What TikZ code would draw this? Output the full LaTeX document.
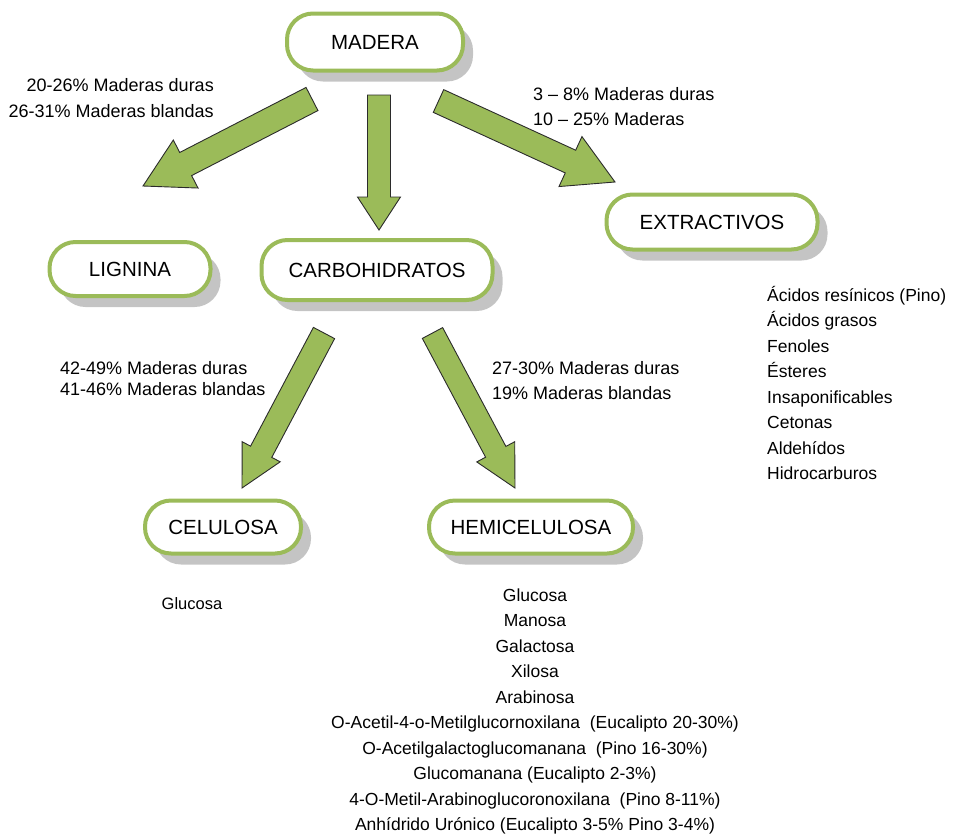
\documentclass[tikz,border=0pt]{standalone}
\usepackage{fontspec}
\setmainfont{Liberation Sans}
\usetikzlibrary{calc, shadows}
\definecolor{woodgreen}{HTML}{9BBB59}
\definecolor{arrowink}{HTML}{2B2B2B}
\definecolor{shadowgray}{HTML}{C4C4C4}

% block arrow: tail, tip, shaft half width, head half width, head length
\newcommand{\blockarrow}[5]{%
  \coordinate (ba-h) at ($(#2)!#5!(#1)$);
  \draw[bigarrow] ($(#1)!#3!90:(#2)$) -- ($(ba-h)!#3!90:(#2)$)
    -- ($(ba-h)!#4!90:(#2)$) -- (#2) -- ($(ba-h)!#4!-90:(#2)$)
    -- ($(ba-h)!#3!-90:(#2)$) -- ($(#1)!#3!-90:(#2)$) -- cycle;
}

\begin{document}
\begin{tikzpicture}[x=1pt, y=-1pt,
  box/.style={draw=woodgreen, line width=4pt, fill=white, rounded corners=26pt,
    inner sep=0, font=\fontsize{20.5}{24}\selectfont, text=black,
    drop shadow={shadow xshift=10pt, shadow yshift=-11pt, fill=shadowgray, opacity=1}},
  lbl/.style={inner sep=0, font=\fontsize{18}{26}\selectfont},
  bigarrow/.style={fill=woodgreen, draw=arrowink, line width=0.9pt, line join=miter}]

\useasboundingbox (0,0) rectangle (956,839);

% ---- boxes
\node[box, minimum width=176, minimum height=57] (madera) at (375,42) {MADERA};
\node[box, minimum width=161, minimum height=54] (lignina) at (130,269) {LIGNINA};
\node[box, minimum width=231, minimum height=60] (carbo) at (377,270) {CARBOHIDRATOS};
\node[box, minimum width=211, minimum height=55] (extract) at (712,222) {EXTRACTIVOS};
\node[box, minimum width=156, minimum height=53] (celulosa) at (223,527) {CELULOSA};
\node[box, minimum width=204, minimum height=53] (hemi) at (531,527) {HEMICELULOSA};

% ---- arrow ends
\coordinate (mad-lig-s) at (312,99);   \coordinate (mad-lig-t) at (143,186);
\coordinate (mad-car-s) at (379,95);   \coordinate (mad-car-t) at (379,230);
\coordinate (mad-ext-s) at (438.5,101); \coordinate (mad-ext-t) at (615,182);
\coordinate (car-cel-s) at (324,333);  \coordinate (car-cel-t) at (242,488);
\coordinate (car-hem-s) at (432.5,333); \coordinate (car-hem-t) at (515,488);

\blockarrow{mad-lig-s}{mad-lig-t}{13pt}{27pt}{48pt}
\blockarrow{mad-car-s}{mad-car-t}{11.5pt}{21.5pt}{33pt}
\blockarrow{mad-ext-s}{mad-ext-t}{12.5pt}{27.5pt}{49pt}
\blockarrow{car-cel-s}{car-cel-t}{12pt}{21.5pt}{41pt}
\blockarrow{car-hem-s}{car-hem-t}{11.5pt}{21.5pt}{41pt}

% ---- percentages
\node[lbl, anchor=east, align=right] (lig-pct) at (214,98.5)
  {20-26\% Maderas duras\\26-31\% Maderas blandas};
\node[lbl, anchor=west, align=left, font=\fontsize{18}{25}\selectfont] (ext-pct) at (533,107)
  {3 – 8\% Maderas duras\\10 – 25\% Maderas};
\node[lbl, anchor=west, align=left, font=\fontsize{18}{21}\selectfont] (cel-pct) at (60,379)
  {42-49\% Maderas duras\\41-46\% Maderas blandas};
\node[lbl, anchor=west, align=left, font=\fontsize{18}{25}\selectfont] (hem-pct) at (492,381)
  {27-30\% Maderas duras\\19\% Maderas blandas};

% ---- components
\node[lbl, anchor=west, align=left, font=\fontsize{17.5}{25.5}\selectfont] (ext-list) at (767,383)
  {Ácidos resínicos (Pino)\\Ácidos grasos\\Fenoles\\Ésteres\\Insaponificables\\Cetonas\\Aldehídos\\Hidrocarburos};
\node[lbl, font=\fontsize{16.5}{20}\selectfont] (cel-list) at (192,604) {Glucosa};
\node[lbl, align=center, font=\fontsize{17.5}{25.5}\selectfont] (hem-list) at (535,711.5)
  {Glucosa\\Manosa\\Galactosa\\Xilosa\\Arabinosa\\
   O-Acetil-4-o-Metilglucornoxilana~ (Eucalipto 20-30\%)\\
   O-Acetilgalactoglucomanana~ (Pino 16-30\%)\\
   Glucomanana (Eucalipto 2-3\%)\\
   4-O-Metil-Arabinoglucoronoxilana~ (Pino 8-11\%)\\
   Anhídrido Urónico (Eucalipto 3-5\% Pino 3-4\%)};

\end{tikzpicture}
\end{document}
